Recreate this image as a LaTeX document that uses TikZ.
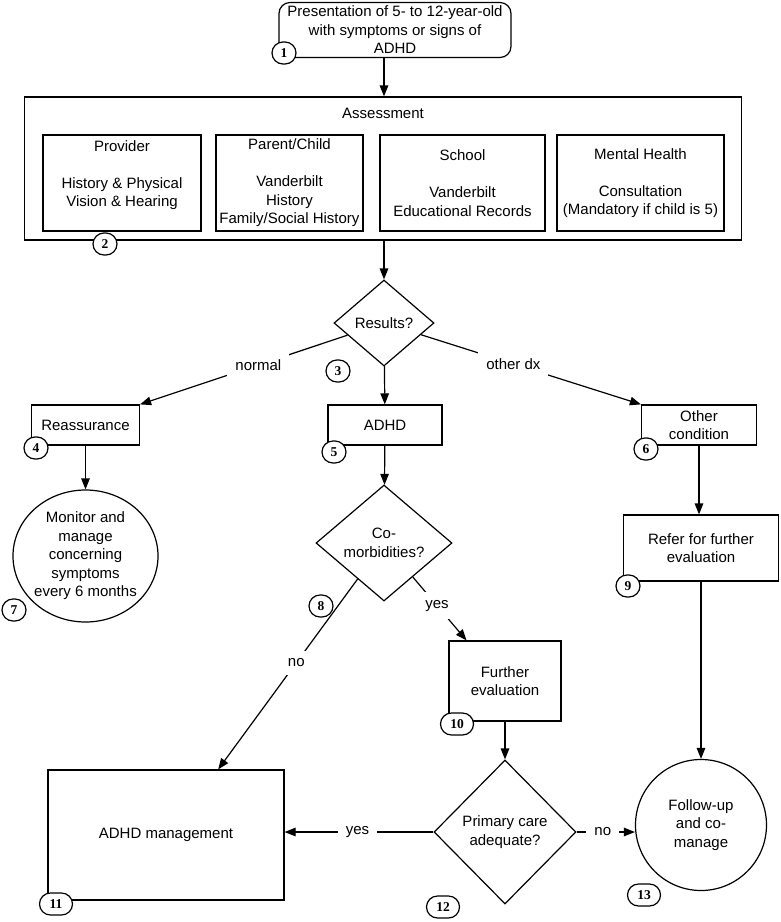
\documentclass[tikz,border=0pt]{standalone}
\usepackage{fontspec}
\setmainfont{Liberation Sans}
\newfontfamily\numfont{Liberation Serif}
\usetikzlibrary{shapes.geometric,arrows.meta,calc}

\tikzset{
    every node/.style={font=\fontsize{15}{18.5}\selectfont},
    box/.style={draw, rectangle, align=center, inner sep=0pt},
    dec/.style={draw, diamond, align=center, inner sep=0pt},
    num/.style={draw, fill=white, rounded corners=11pt, minimum width=24pt,
        minimum height=22pt, inner sep=0pt,
        font=\numfont\bfseries\fontsize{13.5}{13.5}\selectfont},
    numw/.style={num, minimum width=33pt},
    arr/.style={-{Triangle[length=11pt,width=8.5pt]}},
    lbl/.style={fill=white, inner sep=8pt}
}

\begin{document}
\begin{tikzpicture}[x=1pt, y=-1pt, line width=1.2pt]
    \useasboundingbox (0,0) rectangle (781,922);

    % top and assessment
    \node[box, rounded corners=11pt, minimum width=232pt, minimum height=55pt] (present) at (395,30)
        {Presentation of 5- to 12-year-old\\with symptoms or signs of\\ADHD};
    \node[box, minimum width=717pt, minimum height=143pt] (assess) at (383,168.5) {};
    \node (assesslbl) at (383,113) {Assessment};
    \node[box, minimum width=158pt, minimum height=96pt] (prov) at (122,183)
        {Provider\\\mbox{}\\History \& Physical\\Vision \& Hearing\\\mbox{}};
    \node[box, minimum width=147pt, minimum height=96pt] (parent) at (289.5,183)
        {Parent/Child\\\mbox{}\\Vanderbilt\\History\\Family/Social History};
    \node[box, minimum width=165pt, minimum height=96pt] (school) at (462.5,183)
        {School\\\mbox{}\\Vanderbilt\\Educational Records};
    \node[box, minimum width=167pt, minimum height=96pt] (mental) at (640.5,183)
        {Mental Health\\\mbox{}\\Consultation\\(Mandatory if child is 5)};

    % results
    \node[dec, minimum width=100pt, minimum height=86pt] (results) at (384,323) {Results?};
    \node[box, minimum width=108pt, minimum height=40pt] (reass) at (85.5,425) {Reassurance};
    \node[box, minimum width=114pt, minimum height=40pt] (adhd) at (385,425) {ADHD};
    \node[box, minimum width=115pt, minimum height=40pt] (other) at (699,425) {Other\\condition};

    \node[draw, ellipse, minimum width=142pt, minimum height=132pt, inner sep=0pt, align=center] (monitor) at (85.5,556)
        {Monitor and\\manage\\concerning\\symptoms\\every 6 months};
    \node[dec, minimum width=136pt, minimum height=116pt] (comorb) at (384,543) {Co-\\morbidities?};
    \node[box, minimum width=155pt, minimum height=66pt] (refer) at (701,548) {Refer for further\\evaluation};

    % bottom row
    \node[box, minimum width=112pt, minimum height=80pt] (further) at (505,681) {Further\\evaluation};
    \node[box, minimum width=236pt, minimum height=130pt] (mgmt) at (166,835) {ADHD management};
    \node[dec, minimum width=142pt, minimum height=144pt] (primary) at (505,832) {Primary care\\adequate?};
    \node[draw, circle, minimum size=131pt, inner sep=0pt, align=center] (follow) at (701,825)
        {Follow-up\\and co-\\manage};

    % connectors
    \draw[arr] (results |- present.south) -- (results |- assess.north);
    \draw[arr] (results |- assess.south) -- (results);
    \draw[arr] (results) -- (reass.north east) node[lbl, pos=0.43] {normal};
    \draw[arr] (results) -- (adhd);
    \draw[arr] (results) -- (other.north west) node[lbl, pos=0.42] {other dx};
    \draw[arr] (reass) -- (monitor);
    \draw[arr] (adhd) -- (comorb);
    \draw[arr] (other.south) -- (other.south |- refer.north);
    \draw[arr] (comorb) -- ($(mgmt.north west)!0.72!(mgmt.north east)$) node[lbl, pos=0.44] {no};
    \draw[arr] (comorb) -- ($(further.north west)!0.16!(further.north east)$) node[lbl, pos=0.45] {yes};
    \draw[arr] (refer) -- (follow);
    \draw[arr] (further) -- (primary);
    \draw[arr] (primary.west) -- (primary.west -| mgmt.east) node[lbl, pos=0.51] {yes};
    \draw[arr] (primary.east) -- (primary.east -| follow.west) node[lbl, pos=0.45] {no};

    % step numbers
    \node[num] (n1) at (284,53) {1};
    \node[num] (n2) at (105,244) {2};
    \node[num] (n3) at (338,371) {3};
    \node[num] (n4) at (36,448) {4};
    \node[num] (n5) at (334,452) {5};
    \node[num] (n6) at (646,449) {6};
    \node[num] (n7) at (14,610) {7};
    \node[num] (n8) at (321,606) {8};
    \node[num] (n9) at (628,586) {9};
    \node[numw] (n10) at (457,724) {10};
    \node[numw] (n11) at (56,904) {11};
    \node[numw] (n12) at (443,907) {12};
    \node[numw] (n13) at (644,895) {13};
\end{tikzpicture}
\end{document}
